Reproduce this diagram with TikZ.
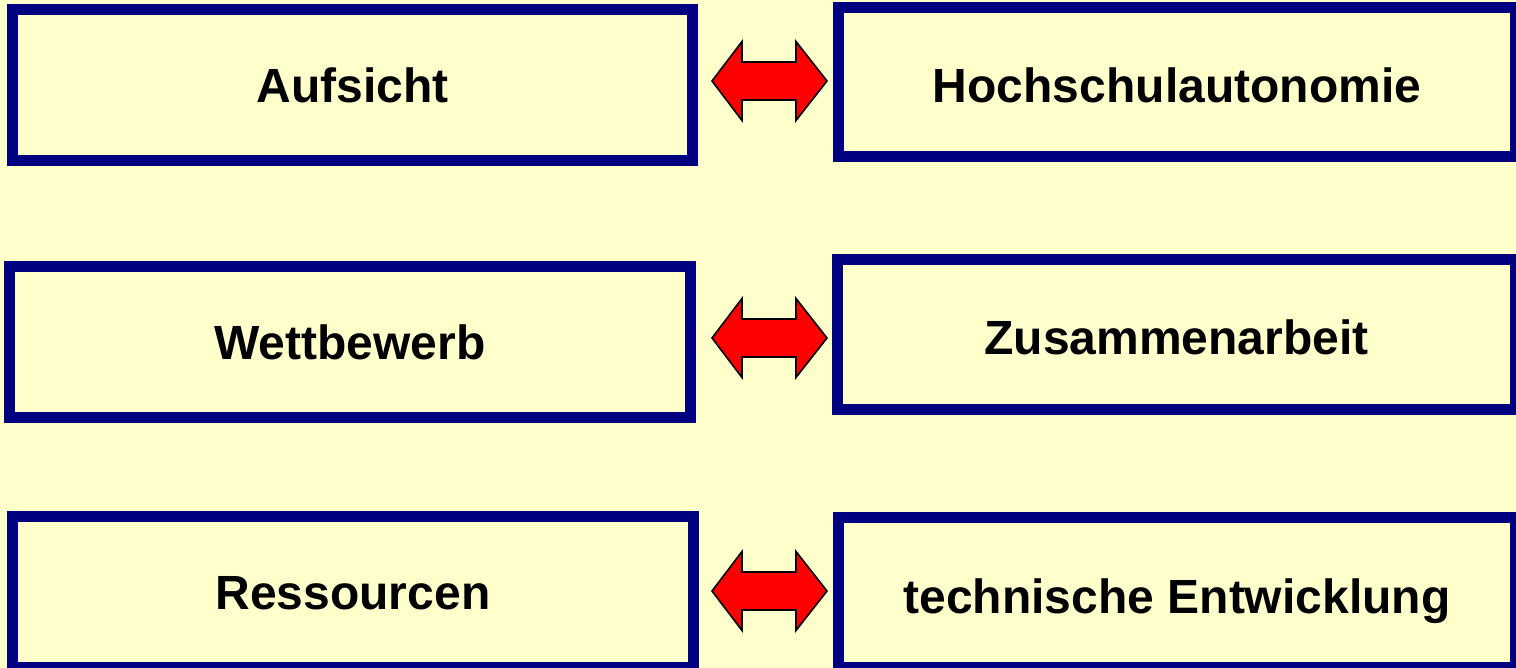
\documentclass[tikz,border=0pt]{standalone}
\usepackage{fontspec}
\setmainfont{Liberation Sans}
\definecolor{bgyellow}{HTML}{FFFFCC}
\definecolor{boxnavy}{HTML}{000080}
\definecolor{arrred}{HTML}{FF0000}
\tikzset{
  box/.style={draw=boxnavy, fill=bgyellow, line width=11pt, rectangle, inner sep=0pt,
    font=\bfseries\fontsize{48}{58}\selectfont, text height=35pt, text depth=0pt},
  rbox/.style={box, text height=41pt},
  dblarrow/.style={fill=arrred, draw=black, line width=1.6pt, line join=miter}
}
\newcommand{\dblarr}[1]{%
  \draw[dblarrow] (712,#1) -- (742,#1-39.5) -- (742,#1-19) -- (796,#1-19) -- (796,#1-39.5)
    -- (827,#1) -- (796,#1+39.5) -- (796,#1+19) -- (742,#1+19) -- (742,#1+39.5) -- cycle;}
\begin{document}
\begin{tikzpicture}[x=1pt,y=-1pt]
\fill[bgyellow] (0,0) rectangle (1516,668);
\useasboundingbox (0,0) rectangle (1516,668);
\begin{scope}
\clip (0,0) rectangle (1516,668);
\node[box, minimum width=680pt, minimum height=151pt] (l1) at (352.5,85) {Aufsicht};
\node[rbox, minimum width=677pt, minimum height=149pt] (r1) at (1177,82) {Hochschulautonomie};
\node[box, minimum width=681pt, minimum height=151pt] (l2) at (350,342) {Wettbewerb};
\node[rbox, minimum width=678pt, minimum height=150pt] (r2) at (1176.5,334.5) {Zusammenarbeit};
\node[box, minimum width=681pt, minimum height=151pt] (l3) at (353,592) {Ressourcen};
\node[rbox, minimum width=677pt, minimum height=150pt] (r3) at (1177,592.5) {technische Entwicklung};
\dblarr{81}
\dblarr{338}
\dblarr{591}
\end{scope}
\end{tikzpicture}
\end{document}
